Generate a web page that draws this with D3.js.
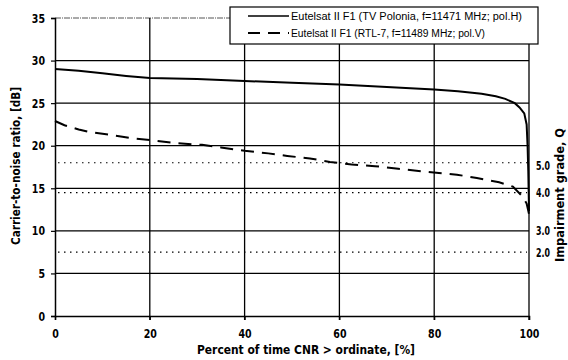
<!DOCTYPE html>
<html><head><meta charset="utf-8">
<script src="https://cdn.jsdelivr.net/npm/d3@7"></script>
<style>
body{margin:0;background:#fff;}
svg{display:block;}
.b{font-family:"DejaVu Sans",sans-serif;font-weight:bold;fill:#000;}
.lg{font-family:"Liberation Sans",Arial,sans-serif;font-size:10px;fill:#000;}
</style></head><body>
<script>
const xTicks=[0,20,40,60,80,100];
const yTicks=[0,5,10,15,20,25,30,35];
const qLabels=["5.0","4.0","3.0","2.0"];
const qDb=[18,14.5,10,7.5];
const dottedDb=[18,14.5,7.5];
const seriesNames=["Eutelsat II F1 (TV Polonia, f=11471 MHz; pol.H)","Eutelsat II F1 (RTL-7, f=11489 MHz; pol.V)"];
const solidX=[0,5,10,15,20,30,40,50,60,70,80,85,90,93,95,97,98,99,99.5,99.7,99.85,99.95,100];
const solidY=[29.0,28.8,28.5,28.2,27.95,27.85,27.6,27.4,27.2,26.9,26.6,26.4,26.1,25.8,25.5,25.0,24.5,23.8,22.5,20,17,14,12.3];
const dashX=[0,2,5,7.4,12.6,16,21,25.7,31,35,40,45,49,53.8,58,62.6,67.5,72.4,77.4,81,84.8,89,93.7,96.6,98.7,99.5,100];
const dashY=[22.9,22.4,21.9,21.6,21.2,20.9,20.6,20.3,20.1,19.8,19.4,19.1,18.8,18.5,18.1,17.8,17.6,17.3,17.0,16.8,16.6,16.2,15.7,15.2,14.0,13.2,12.0];

const W=568,H=360;
const svg=d3.select("body").append("svg").attr("width",W).attr("height",H);
const x=d3.scaleLinear().domain([0,100]).range([55,529]);
const y=d3.scaleLinear().domain([0,35]).range([316,18]);

// horizontal grid
svg.append("g").selectAll("line").data(yTicks.filter(d=>d>0&&d<35)).join("line")
 .attr("x1",x(0)).attr("x2",x(100)).attr("y1",d=>y(d)).attr("y2",d=>y(d))
 .attr("stroke","#000").attr("stroke-width",1.2);
// top border (grey dashed)
svg.append("line").attr("x1",x(0)).attr("x2",x(100)).attr("y1",y(35)).attr("y2",y(35))
 .attr("stroke","#555").attr("stroke-width",1).attr("stroke-dasharray","6,1,1,1");
// dotted impairment lines
svg.append("g").selectAll("line").data(dottedDb).join("line")
 .attr("x1",x(0)+3).attr("x2",x(100)-2).attr("y1",d=>y(d)).attr("y2",d=>y(d))
 .attr("stroke","#000").attr("stroke-width",1.2).attr("stroke-dasharray","1.5,4.5");
// vertical grid
svg.append("g").selectAll("line").data(xTicks.filter(d=>d>0)).join("line")
 .attr("x1",d=>x(d)).attr("x2",d=>x(d)).attr("y1",y(35)).attr("y2",y(0)+4)
 .attr("stroke","#000").attr("stroke-width",1.3);

// axes
const ya=svg.append("g").attr("transform",`translate(${x(0)},0)`)
 .call(d3.axisLeft(y).tickValues(yTicks).tickSize(4).tickPadding(6));
ya.select(".domain").attr("stroke","#000").attr("stroke-width",1.5);
ya.selectAll(".tick line").attr("stroke","#000").attr("stroke-width",1.2);
ya.selectAll("text").attr("class","b").style("font-size","12.5px").attr("font-family",null)
 .attr("textLength",function(){return this.textContent.length*6.6;}).attr("lengthAdjust","spacingAndGlyphs");
const xa=svg.append("g").attr("transform",`translate(0,${y(0)})`)
 .call(d3.axisBottom(x).tickValues(xTicks).tickSize(4).tickPadding(9));
xa.select(".domain").attr("stroke","#000").attr("stroke-width",1.5);
xa.selectAll(".tick line").attr("stroke","#000").attr("stroke-width",1.2);
xa.selectAll("text").attr("class","b").style("font-size","12.5px").attr("font-family",null)
 .attr("textLength",function(){return this.textContent.length*6.6;}).attr("lengthAdjust","spacingAndGlyphs");

// right Q labels
svg.append("g").selectAll("text").data(qLabels).join("text").attr("class","b")
 .attr("x",536).attr("y",(d,i)=>y(qDb[i])+(i==0?3:0)).attr("dy","0.36em")
 .style("font-size","12.5px").attr("textLength",14).attr("lengthAdjust","spacingAndGlyphs").text(d=>d);

// curves
const line=d3.line().x(d=>x(d[0])).y(d=>y(d[1]));
svg.append("path").datum(solidX.map((v,i)=>[v,solidY[i]])).attr("d",line)
 .attr("fill","none").attr("stroke","#000").attr("stroke-width",2);
svg.append("path").datum(dashX.map((v,i)=>[v,dashY[i]])).attr("d",line)
 .attr("fill","none").attr("stroke","#000").attr("stroke-width",2).attr("stroke-dasharray","13,8");

// axis titles
svg.append("text").attr("class","b").style("font-size","12.5px")
 .attr("transform","translate(20,166) rotate(-90)").attr("text-anchor","middle")
 .attr("textLength",158).attr("lengthAdjust","spacingAndGlyphs").text("Carrier-to-noise ratio,  [dB]");
svg.append("text").attr("class","b").style("font-size","12.5px")
 .attr("transform","translate(564,195) rotate(-90)").attr("text-anchor","middle")
 .attr("textLength",134).attr("lengthAdjust","spacingAndGlyphs").text("Impairment grade,  Q");
svg.append("text").attr("class","b").style("font-size","12.5px")
 .attr("x",306).attr("y",354).attr("text-anchor","middle")
 .attr("textLength",218).attr("lengthAdjust","spacingAndGlyphs").text("Percent of time CNR > ordinate,  [%]");

// legend
const lg=svg.append("g");
lg.append("rect").attr("x",230).attr("y",7).attr("width",308).attr("height",37)
 .attr("fill","#fff").attr("stroke","#000").attr("stroke-width",1.2);
const ly=[16,33];
const lw=[231,194];
lg.selectAll("line").data(seriesNames).join("line")
 .attr("x1",248).attr("x2",289).attr("y1",(d,i)=>ly[i]).attr("y2",(d,i)=>ly[i])
 .attr("stroke","#000").attr("stroke-width",(d,i)=>i?2:1.3).attr("stroke-dasharray",(d,i)=>i?"12,8":null);
lg.selectAll("text").data(seriesNames).join("text").attr("class","lg")
 .attr("x",291).attr("y",(d,i)=>ly[i]).attr("dy","0.35em")
 .attr("textLength",(d,i)=>lw[i]).attr("lengthAdjust","spacingAndGlyphs").text(d=>d);
</script>
</body></html>
